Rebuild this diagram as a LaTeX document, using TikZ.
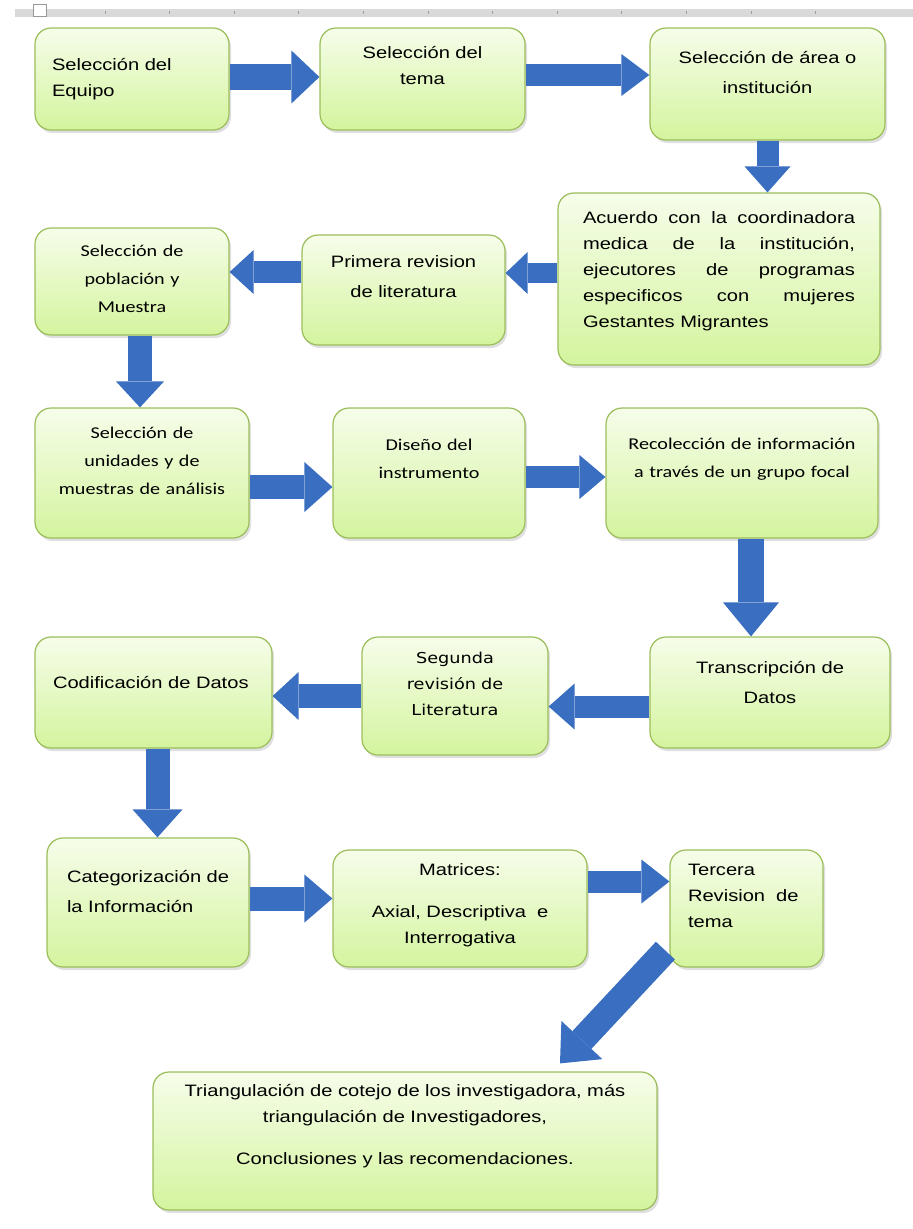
\documentclass[tikz,border=0pt]{standalone}
\usepackage{fontspec}
\setmainfont{Liberation Sans}[FakeStretch=1.22]
\newfontfamily\calib{Carlito}[FakeStretch=1.22]
\newfontfamily\verd{DejaVu Sans}[FakeStretch=1.18]
\usetikzlibrary{arrows.meta,shadows}

\definecolor{boxtop}{RGB}{246,253,234}
\definecolor{boxbot}{RGB}{212,244,158}
\definecolor{boxedge}{RGB}{155,190,90}
\definecolor{flowblue}{RGB}{58,110,192}

\newcommand\fs{\fontsize{16.5}{26}\selectfont}
\newcommand\fc{\calib\fontsize{16.5}{28}\selectfont}
\newcommand\fv{\verd\fontsize{15}{26}\selectfont}

\tikzset{
  paso/.style={draw=boxedge, line width=1.2pt, rounded corners=16pt,
    top color=boxtop, bottom color=boxbot, inner sep=0pt, font=\fs,
    align=center,
    drop shadow={opacity=0.25, shadow xshift=2pt, shadow yshift=-3pt}},
  lift/.style={execute at end node={\par\vspace*{#1}}},
  flow/.style n args={3}{draw=flowblue, line width=#1,
    -{Triangle[width=#2, length=#3, line width=0pt]}}
}

\begin{document}
\begin{tikzpicture}[x=1pt,y=-1pt]
\useasboundingbox (0,0) rectangle (913,1229);

% ruler strip at the top
\fill[gray!30] (15,9) rectangle (913,17);
\foreach \t in {0,...,11} {
  \draw[gray!75, line width=0.8pt] ({105+64.6*\t},11) -- ++(0,2.5);
}
\draw[gray!80, fill=white] (33,4) rectangle (46,16);

% first row
\node[paso, minimum width=194pt, minimum height=102pt, text width=160pt, align=left]
  (b1) at (132,79) {Selección del\\Equipo};
\node[paso, minimum width=205pt, minimum height=102pt, text width=180pt, lift=26pt]
  (b2) at (422.5,79) {Selección del\\tema};
\node[paso, minimum width=235pt, minimum height=112pt, text width=210pt, lift=22pt]
  (b3) at (767.5,84) {Selección de área o\\[4pt]institución};

% second row
\node[paso, minimum width=322pt, minimum height=172pt, text width=272pt, align=justify, lift=16pt]
  (b4) at (719,279) {Acuerdo con la coordinadora\linebreak medica de la institución,\linebreak
  ejecutores de programas\linebreak especificos con mujeres\linebreak Gestantes Migrantes};
\node[paso, minimum width=203pt, minimum height=110pt, text width=180pt, lift=26pt]
  (b5) at (403.5,290) {Primera revision\\[4pt]de literatura};
\node[paso, minimum width=194pt, minimum height=107pt, text width=170pt, font=\fc, lift=6pt]
  (b6) at (132,281.5) {Selección de\\población y\\Muestra};

% third row
\node[paso, minimum width=214pt, minimum height=130pt, text width=196pt, font=\fc, lift=24pt]
  (b7) at (142,473) {Selección de\\unidades y de\\muestras de análisis};
\node[paso, minimum width=192pt, minimum height=130pt, text width=170pt, font=\fc, lift=28pt]
  (b8) at (429,473) {Diseño del\\instrumento};
\node[paso, minimum width=272pt, minimum height=130pt, text width=250pt, font=\fc, lift=28pt]
  (b9) at (742,473) {Recolección de información\\a través de un grupo focal};

% fourth row
\node[paso, minimum width=240pt, minimum height=111pt, text width=210pt, lift=20pt]
  (b10) at (770,692.5) {Transcripción de\\[4pt]Datos};
\node[paso, minimum width=186pt, minimum height=118pt, text width=170pt, font=\fv, lift=24pt]
  (b11) at (455,696) {Segunda\\revisión de\\Literatura};
\node[paso, minimum width=237pt, minimum height=111pt, text width=201pt, align=left, lift=20pt]
  (b12) at (153.5,692.5) {Codificación de Datos};

% fifth row
\node[paso, minimum width=202pt, minimum height=129pt, text width=182pt, align=left, lift=22pt]
  (b13) at (148,902.5) {\hspace*{10pt}Categorización de\\[4pt]\hspace*{10pt}la Información};
\node[paso, minimum width=254pt, minimum height=117pt, text width=230pt, lift=6pt]
  (b14) at (460,908.5) {Matrices:\\[16pt]Axial, Descriptiva\ \ e\\Interrogativa};
\node[paso, minimum width=153pt, minimum height=117pt, text width=117pt, align=left, lift=26pt]
  (b15) at (746.5,908.5) {Tercera\\Revision\ \ de\\tema};

% last box
\node[paso, minimum width=504pt, minimum height=138pt, text width=480pt, lift=30pt]
  (b16) at (405,1141) {Triangulación de cotejo de los investigadora, más\\
  triangulación de Investigadores,\\[16pt]Conclusiones y las recomendaciones.};

% block arrows
\draw[flow={26pt}{53pt}{28pt}] ([yshift=2pt]b1.east) -- ([yshift=2pt]b1.east -| b2.west);
\draw[flow={22pt}{42pt}{28pt}] ([yshift=4pt]b2.east) -- ([yshift=4pt]b2.east -| b3.west);
\draw[flow={22pt}{46pt}{26pt}] (b3.south) -- (b3.south |- b4.north);
\draw[flow={20pt}{42pt}{22pt}] ([yshift=6pt]b4.west) -- ([yshift=6pt]b4.west -| b5.east);
\draw[flow={22pt}{44pt}{24pt}] ([yshift=18pt]b5.west) -- ([yshift=18pt]b5.west -| b6.east);
\draw[flow={24pt}{48pt}{26pt}] ([xshift=8pt]b6.south) -- ([xshift=8pt]b6.south |- b7.north);
\draw[flow={24pt}{50pt}{28pt}] ([yshift=-14pt]b7.east) -- ([yshift=-14pt]b7.east -| b8.west);
\draw[flow={22pt}{44pt}{26pt}] ([yshift=-4pt]b8.east) -- ([yshift=-4pt]b8.east -| b9.west);
\draw[flow={26pt}{56pt}{34pt}] ([xshift=9pt]b9.south) -- ([xshift=9pt]b9.south |- b10.north);
\draw[flow={22pt}{46pt}{26pt}] ([yshift=-14pt]b10.west) -- ([yshift=-14pt]b10.west -| b11.east);
\draw[flow={24pt}{48pt}{26pt}] (b11.west) -- (b11.west -| b12.east);
\draw[flow={24pt}{50pt}{28pt}] ([xshift=4pt]b12.south) -- ([xshift=4pt]b12.south |- b13.north);
\draw[flow={24pt}{48pt}{28pt}] ([yshift=4pt]b13.east) -- ([yshift=4pt]b13.east -| b14.west);
\draw[flow={22pt}{44pt}{28pt}] ([yshift=27pt]b14.east) -- ([yshift=27pt]b14.east -| b15.west);
\draw[flow={26pt}{56pt}{32pt}] ([shift={(-4,-17)}]b15.south west) -- ([shift={(155,-8)}]b16.north);

\end{tikzpicture}
\end{document}
